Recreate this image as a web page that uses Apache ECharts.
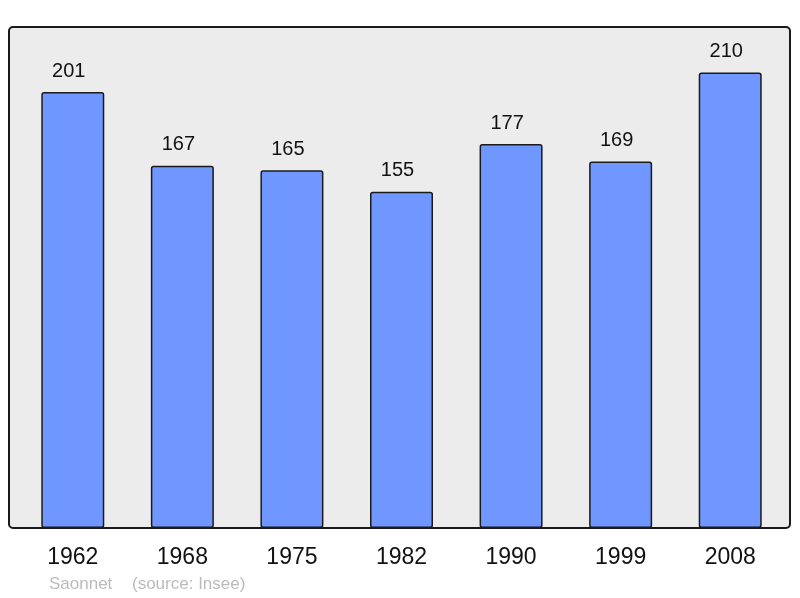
<!DOCTYPE html>
<html>
<head>
<meta charset="utf-8">
<script src="https://cdn.jsdelivr.net/npm/echarts@6/dist/echarts.min.js"></script>
<style>
  html, body { margin: 0; padding: 0; background: #fff; }
  #chart { width: 800px; height: 598px; }
</style>
</head>
<body>
<div id="chart"></div>
<script>
// population par recensement
var years = ['1962', '1968', '1975', '1982', '1990', '1999', '2008'];
var population = [201, 167, 165, 155, 177, 169, 210];

var chart = echarts.init(document.getElementById('chart'));

var option = {
  animation: false,
  textStyle: { fontFamily: 'Liberation Sans, Arial, sans-serif' },
  grid: { left: 18, right: 15, top: 27, bottom: 70 },
  graphic: [
    {
      type: 'rect',
      z: -10,
      shape: { x: 9, y: 27, width: 781, height: 501, r: 4 },
      style: { fill: '#ececec', stroke: '#1a1a1a', lineWidth: 2 }
    },
    {
      type: 'text',
      left: 49, top: 576,
      style: { text: 'Saonnet', fill: '#bbbbbb', fontSize: 17, fontFamily: 'Liberation Sans, Arial, sans-serif' }
    },
    {
      type: 'text',
      left: 132, top: 576,
      style: { text: '(source: Insee)', fill: '#bbbbbb', fontSize: 17, fontFamily: 'Liberation Sans, Arial, sans-serif' }
    }
  ],
  xAxis: {
    type: 'category',
    data: years,
    axisLine: { show: false },
    axisTick: { show: false },
    axisLabel: { fontSize: 23, color: '#111', margin: 18 }
  },
  yAxis: {
    type: 'value',
    min: 0,
    max: 231,
    show: false,
    splitLine: { show: false }
  },
  series: [
    {
      type: 'bar',
      data: population,
      barWidth: 63,
      itemStyle: {
        color: '#7097ff',
        borderColor: '#1a1a1a',
        borderWidth: 1.5,
        borderRadius: 2
      },
      label: {
        show: true,
        position: 'top',
        distance: 11,
        offset: [-4, 0],
        fontSize: 20,
        color: '#111'
      }
    }
  ]
};

chart.setOption(option);
</script>
</body>
</html>
